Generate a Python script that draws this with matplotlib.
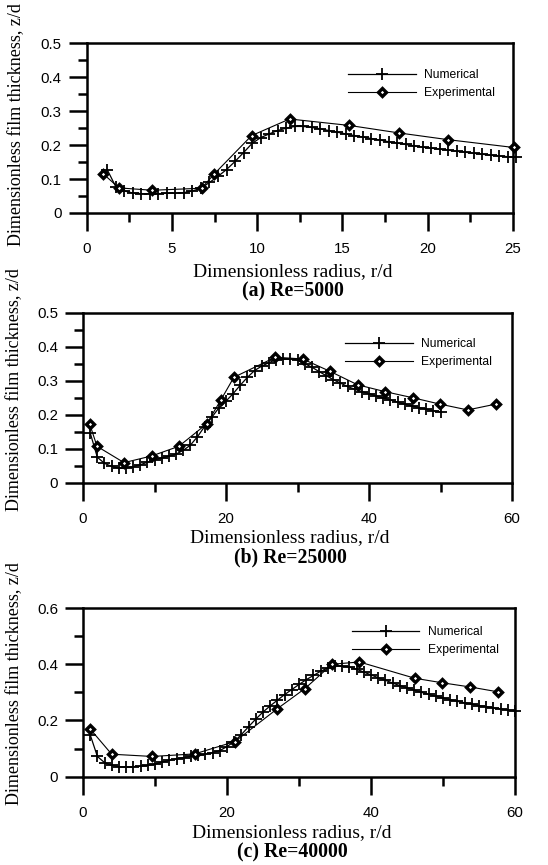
"""
Film thickness vs radius for three Reynolds numbers: numerical vs experimental.
"""

import matplotlib

matplotlib.use("Agg")

import matplotlib.pyplot as plt
from matplotlib.ticker import MultipleLocator

# ---- (a) Re=5000 ----
a_num_r = [1.2, 1.7, 2.2, 2.7, 3.2, 3.7, 4.2, 4.7, 5.2, 5.7, 6.2, 6.7, 7.2, 7.7,
           8.2, 8.7, 9.2, 9.7, 10.2, 10.7, 11.2, 11.7, 12.2, 12.7, 13.2, 13.7,
           14.2, 14.7, 15.2, 15.7, 16.2, 16.7, 17.2, 17.7, 18.2, 18.7, 19.2,
           19.7, 20.2, 20.7, 21.2, 21.7, 22.2, 22.7, 23.2, 23.7, 24.2, 24.7, 25.2]
a_num_z = [0.128, 0.078, 0.065, 0.059, 0.057, 0.057, 0.057, 0.058, 0.058, 0.060,
           0.065, 0.073, 0.090, 0.108, 0.128, 0.152, 0.178, 0.205, 0.222, 0.233,
           0.243, 0.250, 0.255, 0.255, 0.252, 0.248, 0.243, 0.238, 0.233, 0.228,
           0.224, 0.219, 0.215, 0.210, 0.206, 0.202, 0.198, 0.194, 0.191, 0.188,
           0.185, 0.182, 0.179, 0.176, 0.173, 0.170, 0.168, 0.166, 0.164]
a_exp_r = [0.98, 1.89, 3.85, 6.74, 7.48, 9.67, 11.9, 15.4, 18.3, 21.2, 25.05]
a_exp_z = [0.115, 0.074, 0.067, 0.073, 0.115, 0.228, 0.277, 0.258, 0.236, 0.216, 0.193]

# ---- (b) Re=25000 ----
b_num_r = [1, 2, 3, 4, 5, 6, 7, 8, 9, 10, 11, 12, 13, 14, 15, 16, 17, 18, 19, 20,
           21, 22, 23, 24, 25, 26, 27, 28, 29, 30, 31, 32, 33, 34, 35, 36, 37, 38,
           39, 40, 41, 42, 43, 44, 45, 46, 47, 48, 49, 50]
b_num_z = [0.147, 0.075, 0.057, 0.048, 0.043, 0.043, 0.047, 0.053, 0.060, 0.067,
           0.073, 0.078, 0.084, 0.095, 0.110, 0.135, 0.165, 0.192, 0.220, 0.240,
           0.262, 0.287, 0.310, 0.330, 0.343, 0.353, 0.362, 0.365, 0.365, 0.360,
           0.350, 0.340, 0.327, 0.315, 0.303, 0.293, 0.283, 0.275, 0.268, 0.262,
           0.255, 0.249, 0.243, 0.237, 0.231, 0.226, 0.221, 0.216, 0.212, 0.208]
b_exp_r = [0.93, 1.96, 5.74, 9.66, 13.4, 17.3, 19.3, 21.1, 26.9, 30.7, 34.5,
           38.4, 42.2, 46.1, 49.95, 53.8, 57.7]
b_exp_z = [0.173, 0.107, 0.059, 0.079, 0.107, 0.173, 0.244, 0.310, 0.369, 0.364,
           0.328, 0.288, 0.268, 0.250, 0.231, 0.214, 0.231]

# ---- (c) Re=40000 ----
c_num_r = [1, 2, 3, 4, 5, 6, 7, 8, 9, 10, 11, 12, 13, 14, 15, 16, 17, 18, 19, 20,
           21, 22, 23, 24, 25, 26, 27, 28, 29, 30, 31, 32, 33, 34, 35, 36, 37, 38,
           39, 40, 41, 42, 43, 44, 45, 46, 47, 48, 49, 50, 51, 52, 53, 54, 55, 56,
           57, 58, 59, 60]
c_num_z = [0.149, 0.072, 0.050, 0.040, 0.036, 0.035, 0.036, 0.037, 0.040, 0.045,
           0.052, 0.058, 0.064, 0.068, 0.072, 0.076, 0.080, 0.086, 0.093, 0.107,
           0.125, 0.150, 0.178, 0.205, 0.230, 0.252, 0.272, 0.292, 0.310, 0.328,
           0.345, 0.360, 0.375, 0.387, 0.393, 0.393, 0.390, 0.382, 0.372, 0.362,
           0.352, 0.343, 0.333, 0.324, 0.316, 0.308, 0.300, 0.293, 0.286, 0.280,
           0.274, 0.268, 0.263, 0.258, 0.253, 0.249, 0.245, 0.241, 0.237, 0.233]
c_exp_r = [1.02, 3.98, 9.6, 15.5, 21.1, 27.0, 30.8, 34.6, 38.4, 46.1, 49.9, 53.8, 57.6]
c_exp_z = [0.169, 0.080, 0.072, 0.081, 0.125, 0.242, 0.313, 0.400, 0.408, 0.350,
           0.334, 0.319, 0.302]

titles = ["(a) Re=5000", "(b) Re=25000", "(c) Re=40000"]

W, H = 548, 865
SERIF = "Liberation Serif"
SANS = "Liberation Sans"


def px_rect(left, top, right, bottom):
    return [left / W, 1 - bottom / H, (right - left) / W, (bottom - top) / H]


# layout in pixels: axes box, x-label centre, y-label centre, legend anchor
panels = [
    dict(rect=px_rect(86.7, 43.3, 513, 213), xlim=25, xmaj=5, ylim=0.5, ymaj=0.1,
         xl=(293, 271.5), yl=(17, 125), leg=(0.613, 0.85),
         data=(a_num_r, a_num_z, a_exp_r, a_exp_z)),
    dict(rect=px_rect(83, 312.7, 512, 482.7), xlim=60, xmaj=20, ylim=0.5, ymaj=0.1,
         xl=(290, 538), yl=(15, 390), leg=(0.611, 0.85),
         data=(b_num_r, b_num_z, b_exp_r, b_exp_z)),
    dict(rect=px_rect(83, 608, 515, 776.7), xlim=60, xmaj=20, ylim=0.6, ymaj=0.2,
         xl=(292, 833), yl=(15, 684), leg=(0.622, 0.892),
         data=(c_num_r, c_num_z, c_exp_r, c_exp_z)),
]

fig = plt.figure(figsize=(W / 100, H / 100), dpi=100)

for p, title in zip(panels, titles):
    ax = fig.add_axes(p["rect"])
    num_r, num_z, exp_r, exp_z = p["data"]

    ax.plot(num_r, num_z, color="black", linewidth=0.9, marker="+",
            markersize=8, markeredgewidth=1.3, label="Numerical", clip_on=False)
    ax.plot(exp_r, exp_z, color="black", linewidth=0.8, marker="D",
            markersize=4.4, markeredgewidth=2.4, markerfacecolor="white",
            label="Experimental", clip_on=False, zorder=3)

    ax.set_xlim(0, p["xlim"])
    ax.set_ylim(0, p["ylim"])
    ax.xaxis.set_major_locator(MultipleLocator(p["xmaj"]))
    ax.xaxis.set_minor_locator(MultipleLocator(p["xmaj"] / 2))
    ax.yaxis.set_major_locator(MultipleLocator(p["ymaj"]))
    ax.yaxis.set_minor_locator(MultipleLocator(p["ymaj"] / 2))
    ax.xaxis.set_major_formatter(plt.FuncFormatter(lambda v, _: f"{v:g}"))
    ax.yaxis.set_major_formatter(plt.FuncFormatter(lambda v, _: f"{v:g}"))

    for s in ax.spines.values():
        s.set_linewidth(1.8)
    ax.tick_params(which="major", direction="out", length=13, width=1.8,
                   labelsize=10.8, pad=8)
    ax.tick_params(which="minor", direction="out", length=6.5, width=1.8)
    ax.tick_params(axis="y", which="major", pad=5)
    for lab in ax.get_xticklabels() + ax.get_yticklabels():
        lab.set_family(SANS)

    ax.legend(loc="upper left", bbox_to_anchor=p["leg"], borderaxespad=0,
              borderpad=0, frameon=False, handlelength=5.6, handletextpad=0.7,
              labelspacing=0.5, prop={"family": SANS, "size": 8.7})

    xx, xy = p["xl"]
    fig.text(xx / W, 1 - xy / H, "Dimensionless radius, r/d", family=SERIF,
             fontsize=14, ha="center", va="center")
    fig.text(xx / W, 1 - (xy + 19.5) / H, title, family=SERIF, fontsize=14.2,
             fontweight="bold", ha="center", va="center")
    yx, yy = p["yl"]
    fig.text(yx / W, 1 - yy / H, "Dimensionless film thickness, z/d", family=SERIF,
             fontsize=13, rotation=90, ha="center", va="center")

fig.savefig("out.png", dpi=100)
